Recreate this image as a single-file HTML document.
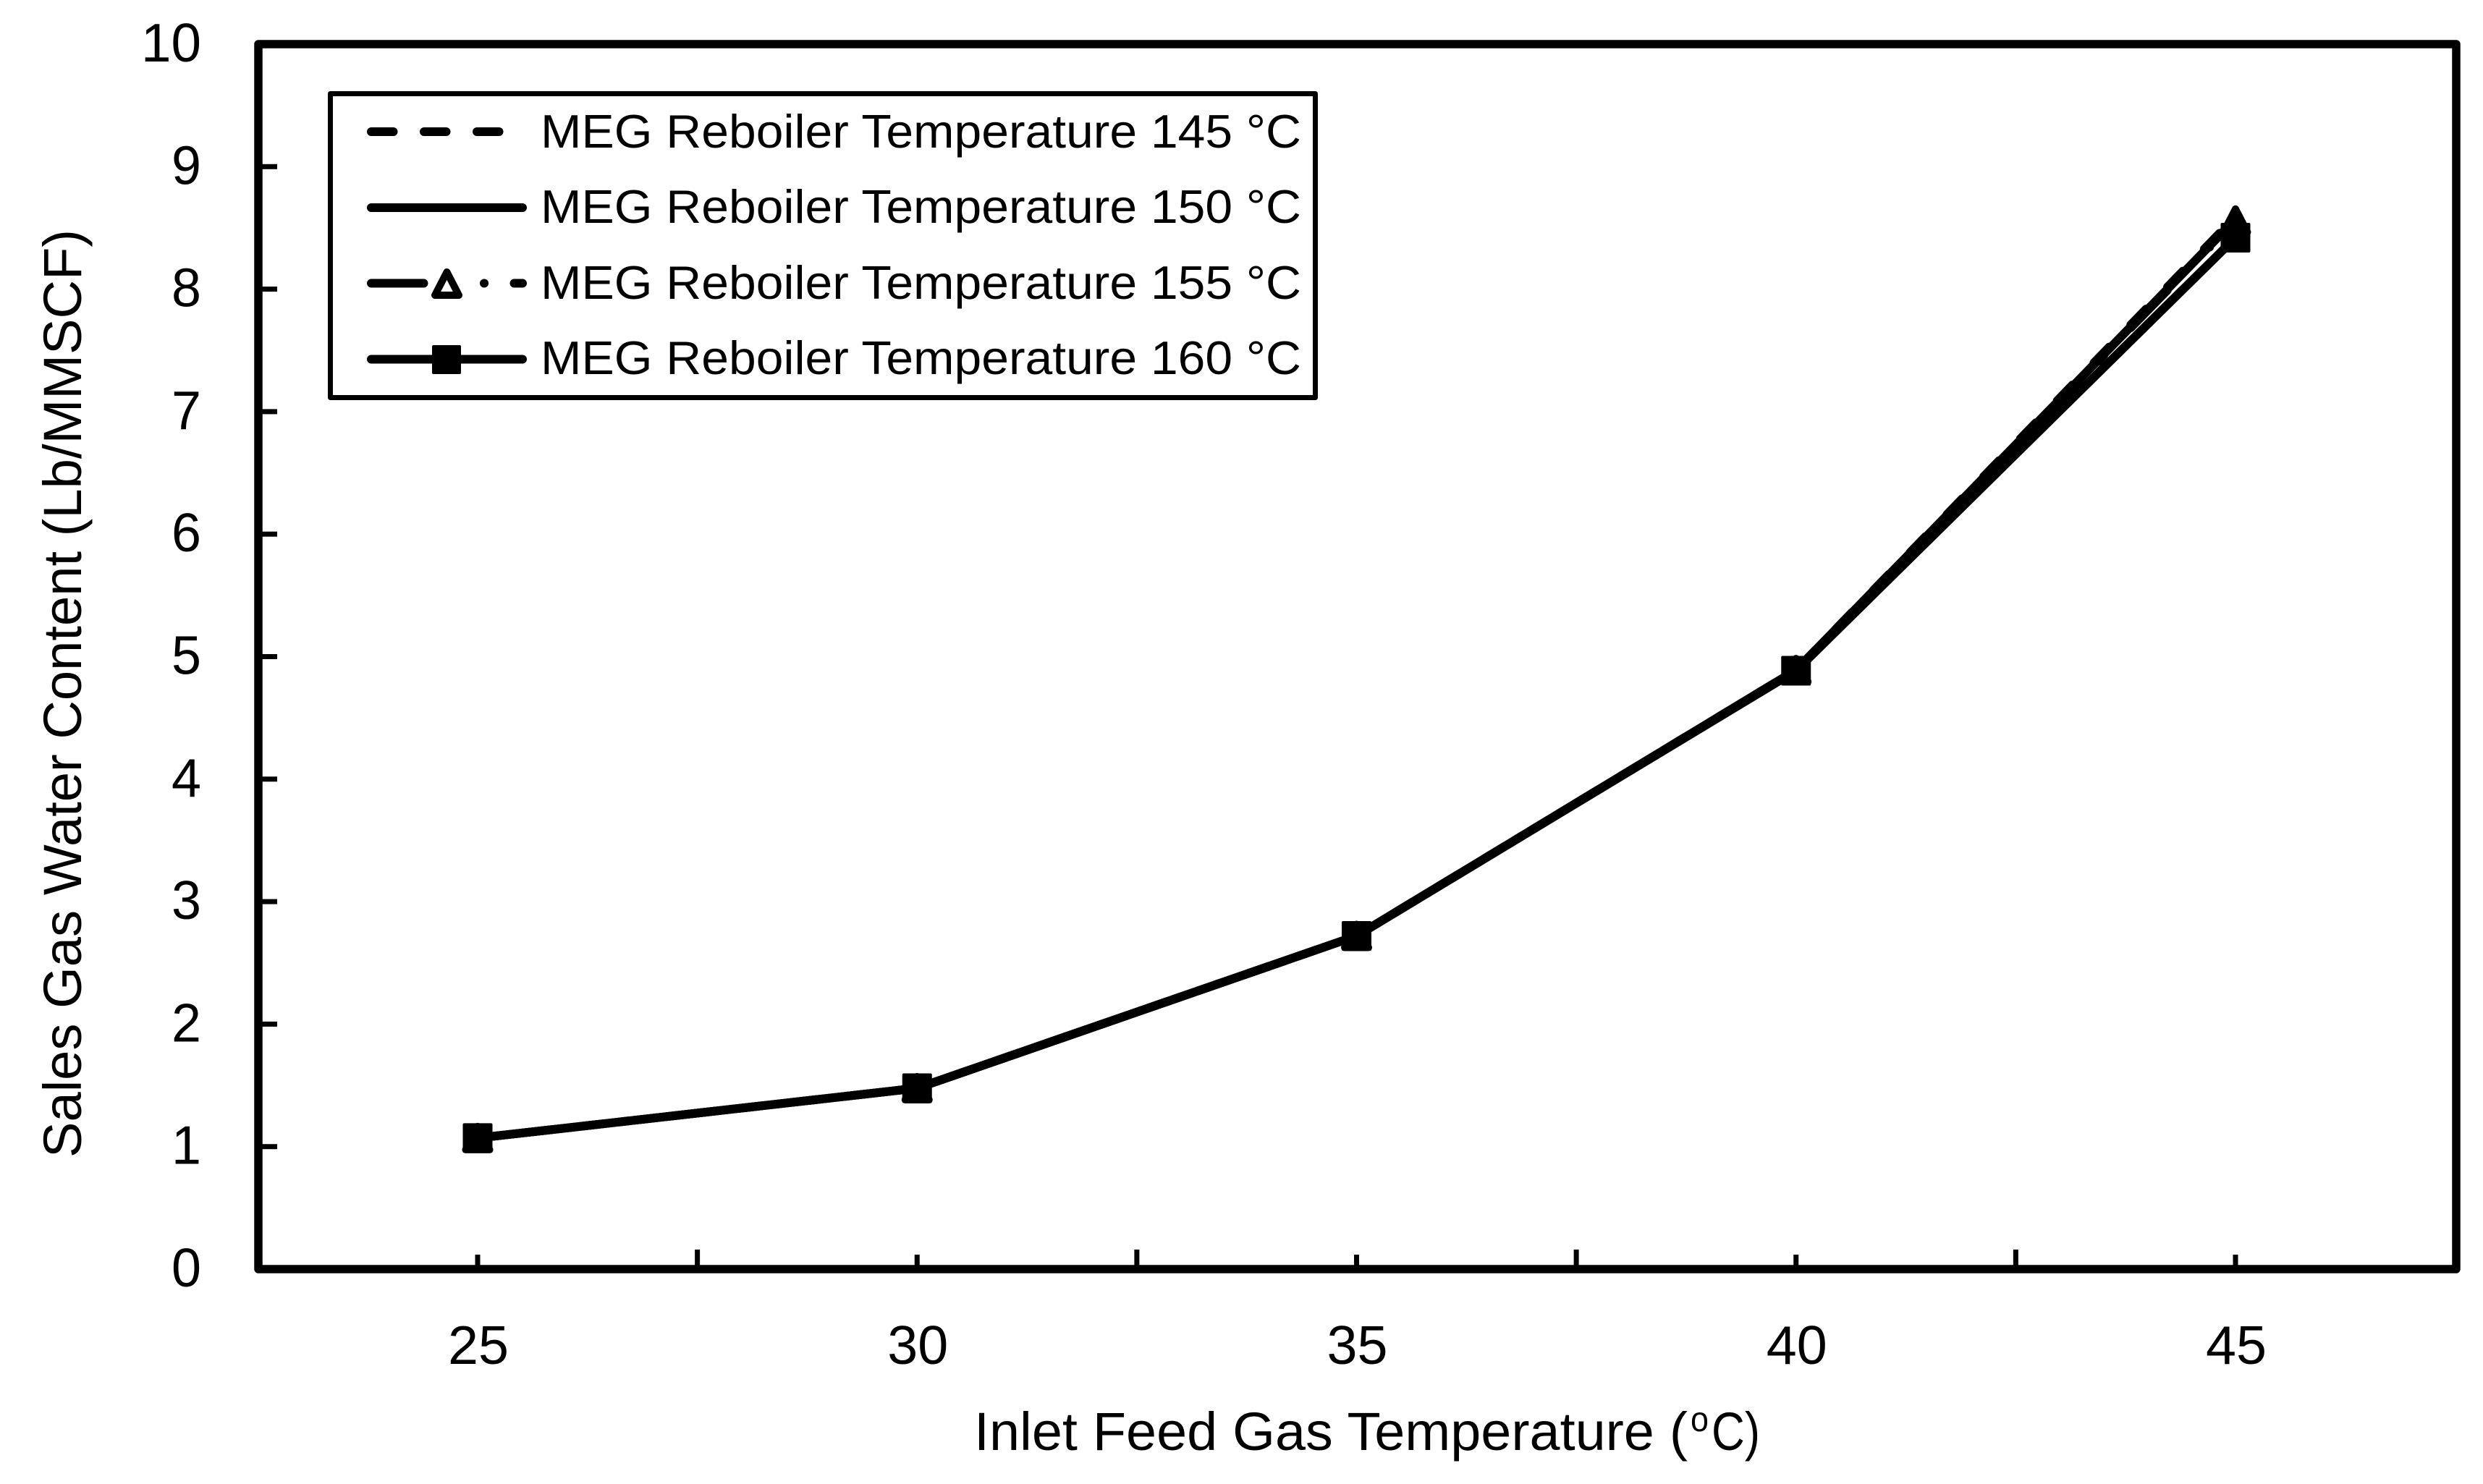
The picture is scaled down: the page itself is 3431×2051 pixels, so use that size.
<!DOCTYPE html>
<html lang="en">
<head>
<meta charset="utf-8">
<title>Sales Gas Water Content vs Inlet Feed Gas Temperature</title>
<style>
  html, body { margin: 0; padding: 0; background: #fff; }
  svg { display: block; }
  text { font-family: "Liberation Sans", Arial, sans-serif; fill: #000; }
</style>
</head>
<body>
<svg id="chart" xmlns="http://www.w3.org/2000/svg" width="3431" height="2051" viewBox="0 0 3431 2051">
  <rect x="0" y="0" width="3431" height="2051" fill="#fff"/>
  <g id="ticks"></g>
  <g id="tick-labels"></g>
  <g id="series"></g>
  <rect x="357" y="61" width="3037" height="1693" fill="none" stroke="#000" stroke-width="11.5" stroke-linejoin="round"/>

  <text transform="translate(112,1600) rotate(-90)" font-size="74" textLength="1283" lengthAdjust="spacingAndGlyphs">Sales Gas Water Content (Lb/MMSCF)</text>

  <g>
    <text x="1346" y="2004" font-size="74" textLength="986" lengthAdjust="spacingAndGlyphs">Inlet Feed Gas Temperature (</text>
    <text x="2336" y="1978" font-size="48" textLength="25" lengthAdjust="spacingAndGlyphs">o</text>
    <text x="2365" y="2004" font-size="74" textLength="67" lengthAdjust="spacingAndGlyphs">C)</text>
  </g>

  <g>
    <rect x="456.5" y="129.5" width="1361" height="420" fill="#fff" stroke="#000" stroke-width="7" stroke-linejoin="round"/>

    <line x1="513" y1="182" x2="689.5" y2="182" stroke="#000" stroke-width="12" stroke-linecap="round" stroke-dasharray="30.5 42.5"/>
    <text x="747" y="204" font-size="65" textLength="1051" lengthAdjust="spacingAndGlyphs">MEG Reboiler Temperature 145 °C</text>

    <line x1="513" y1="287" x2="722" y2="287" stroke="#000" stroke-width="12" stroke-linecap="round"/>
    <text x="747" y="308" font-size="65" textLength="1051" lengthAdjust="spacingAndGlyphs">MEG Reboiler Temperature 150 °C</text>

    <line x1="513" y1="391.5" x2="722" y2="391.5" stroke="#000" stroke-width="12" stroke-linecap="round" stroke-dasharray="72.5 83.5 0.1 41.4 12 1000"/>
    <polygon points="617.5,376 601,408 634,408" fill="#fff" stroke="#000" stroke-width="10" stroke-linejoin="round"/>
    <text x="747" y="413" font-size="65" textLength="1051" lengthAdjust="spacingAndGlyphs">MEG Reboiler Temperature 155 °C</text>

    <line x1="513" y1="496.5" x2="722" y2="496.5" stroke="#000" stroke-width="12" stroke-linecap="round"/>
    <rect x="599" y="479" width="36" height="36" fill="#000" stroke="#000" stroke-width="4" stroke-linejoin="round"/>
    <text x="747" y="517" font-size="65" textLength="1051" lengthAdjust="spacingAndGlyphs">MEG Reboiler Temperature 160 °C</text>
  </g>
</svg>

<script>
const temperatures = [25, 30, 35, 40, 45];
const series145 = [1.07, 1.477, 2.72, 4.89, 8.59];
const series150 = [1.07, 1.477, 2.72, 4.89, 8.57];
const series155 = [1.07, 1.477, 2.72, 4.89, 8.56];
const series160 = [1.07, 1.477, 2.72, 4.885, 8.42];
const xTickLabels = [25, 30, 35, 40, 45];
const xMinorTicks = [27.5, 32.5, 37.5, 42.5];
const yTickLabels = [0, 1, 2, 3, 4, 5, 6, 7, 8, 9, 10];

const SVG_NS = 'http://www.w3.org/2000/svg';
const xScale = function (v) { return 660 + (v - 25) * 121.45; };
const yScale = function (v) { return 1754 - v * 169.3; };
const make = function (tag) { return document.createElementNS(SVG_NS, tag); };

const ticksGroup = document.getElementById('ticks');
const labelsGroup = document.getElementById('tick-labels');
const seriesGroup = document.getElementById('series');

yTickLabels.forEach(function (v) {
  if (v > 0 && v < 10) {
    const t = make('rect');
    
    
    t.setAttribute('x', 357);
    t.setAttribute('y', yScale(v) - 3.5);
    t.setAttribute('width', 26);
    t.setAttribute('height', 7);
    ticksGroup.appendChild(t);
  }
  const l = make('text');
  
  
  l.setAttribute('x', 278);
  l.setAttribute('y', yScale(v) + 24);
  l.setAttribute('font-size', 75);
  l.setAttribute('text-anchor', 'end');
  l.setAttribute('textLength', v === 10 ? 83 : 41);
  l.setAttribute('lengthAdjust', 'spacingAndGlyphs');
  l.textContent = String(v);
  labelsGroup.appendChild(l);
});

xTickLabels.forEach(function (v) {
  const t = make('rect');
  
  
  t.setAttribute('x', xScale(v) - 3.5);
  t.setAttribute('y', 1734);
  t.setAttribute('width', 7);
  t.setAttribute('height', 20);
  ticksGroup.appendChild(t);

  const l = make('text');
  
  
  l.setAttribute('x', xScale(v) + 1);
  l.setAttribute('y', 1885);
  l.setAttribute('font-size', 75);
  l.setAttribute('text-anchor', 'middle');
  l.setAttribute('textLength', 84);
  l.setAttribute('lengthAdjust', 'spacingAndGlyphs');
  l.textContent = String(v);
  labelsGroup.appendChild(l);
});

xMinorTicks.forEach(function (v) {
  const t = make('rect');
  
  
  t.setAttribute('x', xScale(v) - 3.5);
  t.setAttribute('y', 1727);
  t.setAttribute('width', 7);
  t.setAttribute('height', 27);
  ticksGroup.appendChild(t);
});

function pointsFor(values) {
  return values.map(function (v, i) {
    return xScale(temperatures[i]) + ',' + yScale(v);
  }).join(' ');
}

const line145 = make('polyline');


line145.setAttribute('points', pointsFor(series145));
line145.setAttribute('fill', 'none');
line145.setAttribute('stroke', '#000');
line145.setAttribute('stroke-width', 12);
line145.setAttribute('stroke-linecap', 'round');
line145.setAttribute('stroke-dasharray', '30.5 42.5');
seriesGroup.appendChild(line145);

const line150 = make('polyline');


line150.setAttribute('points', pointsFor(series150));
line150.setAttribute('fill', 'none');
line150.setAttribute('stroke', '#000');
line150.setAttribute('stroke-width', 12);
line150.setAttribute('stroke-linejoin', 'round');
seriesGroup.appendChild(line150);

const line155 = make('polyline');


line155.setAttribute('points', pointsFor(series155));
line155.setAttribute('fill', 'none');
line155.setAttribute('stroke', '#000');
line155.setAttribute('stroke-width', 12);
line155.setAttribute('stroke-linecap', 'round');
line155.setAttribute('stroke-dasharray', '72.5 83.5 0.1 41.4 12 53');
seriesGroup.appendChild(line155);

series155.forEach(function (v, i) {
  const cx = xScale(temperatures[i]);
  const cy = yScale(v);
  const m = make('polygon');
  
  
  m.setAttribute('points', cx + ',' + (cy - 16) + ' ' + (cx - 16.5) + ',' + (cy + 16) + ' ' + (cx + 16.5) + ',' + (cy + 16));
  m.setAttribute('fill', '#000');
  m.setAttribute('stroke', '#000');
  m.setAttribute('stroke-width', 10);
  m.setAttribute('stroke-linejoin', 'round');
  seriesGroup.appendChild(m);
});

const line160 = make('polyline');


line160.setAttribute('points', pointsFor(series160));
line160.setAttribute('fill', 'none');
line160.setAttribute('stroke', '#000');
line160.setAttribute('stroke-width', 12);
line160.setAttribute('stroke-linejoin', 'round');
seriesGroup.appendChild(line160);

series160.forEach(function (v, i) {
  const cx = xScale(temperatures[i]);
  const cy = yScale(v);
  const m = make('rect');
  
  
  m.setAttribute('x', cx - 18.5);
  m.setAttribute('y', cy - 18.5);
  m.setAttribute('width', 37);
  m.setAttribute('height', 37);
  m.setAttribute('fill', '#000');
  m.setAttribute('stroke', '#000');
  m.setAttribute('stroke-width', 4);
  m.setAttribute('stroke-linejoin', 'round');
  seriesGroup.appendChild(m);
});
</script>
</body>
</html>
